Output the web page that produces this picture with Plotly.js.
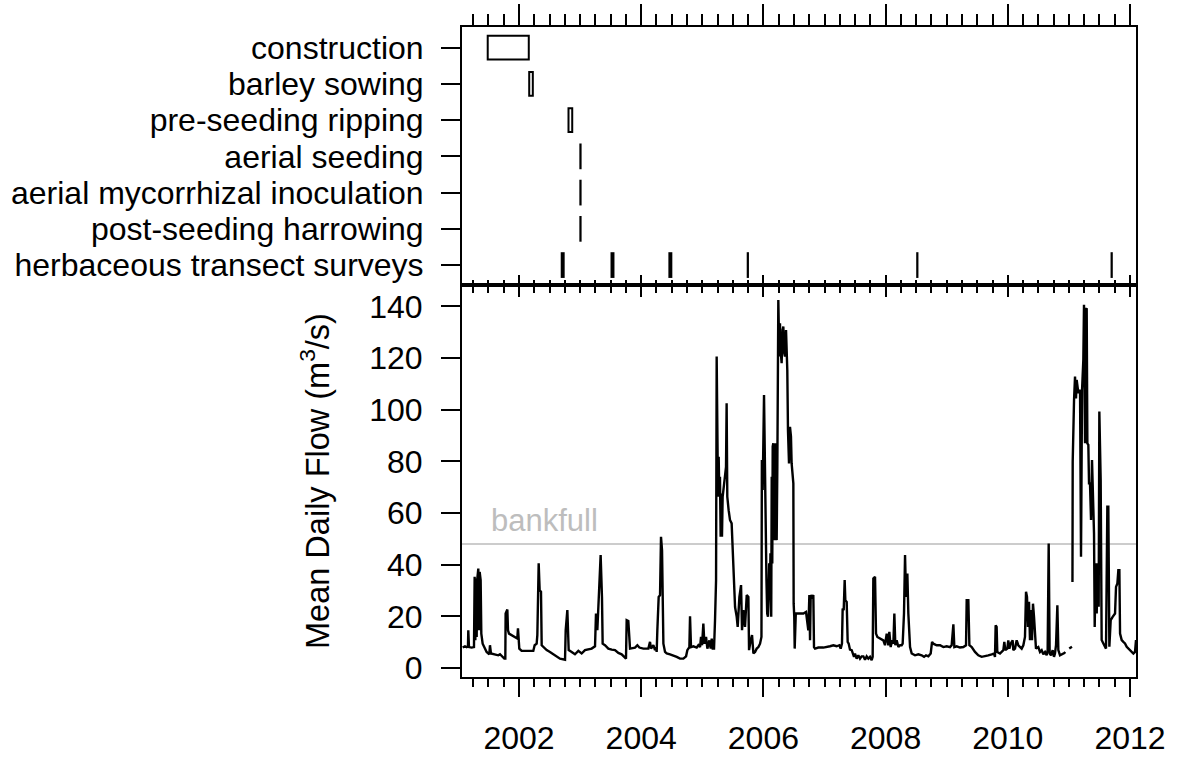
<!DOCTYPE html>
<html>
<head>
<meta charset="utf-8">
<script src="https://cdn.plot.ly/plotly-3.0.1.min.js"></script>
<style>html,body{margin:0;padding:0;background:#fff;}#chart{width:1180px;height:759px;}</style>
</head>
<body>
<div id="chart"></div>
<script>
// ---- Data (decimal years) ----
const flowYear = [
2001.078,2001.116,2001.143,2001.165,2001.170,2001.181,2001.225,2001.263,2001.274,2001.285,2001.296,2001.307,2001.318,2001.334,2001.345,2001.356,2001.372,2001.383,2001.405,2001.427,2001.470,2001.514,2001.525,2001.541,2001.607,2001.661,2001.689,2001.716,2001.760,2001.776,2001.781,2001.809,2001.820,2001.836,2001.880,2001.934,2001.972,2001.983,2002.000,2002.005,2002.043,2002.234,2002.256,2002.289,2002.300,2002.322,2002.338,2002.360,2002.371,2002.398,2002.453,2002.507,2002.562,2002.616,2002.671,2002.753,2002.764,2002.791,2002.802,2002.813,2002.862,2002.916,2002.971,2003.025,2003.080,2003.135,2003.189,2003.244,2003.260,2003.282,2003.304,2003.336,2003.358,2003.369,2003.407,2003.462,2003.517,2003.571,2003.626,2003.680,2003.735,2003.751,2003.762,2003.789,2003.817,2003.899,2003.937,2003.970,2004.035,2004.117,2004.144,2004.161,2004.199,2004.226,2004.243,2004.253,2004.264,2004.286,2004.308,2004.324,2004.341,2004.352,2004.363,2004.390,2004.417,2004.472,2004.526,2004.581,2004.635,2004.690,2004.734,2004.755,2004.788,2004.799,2004.815,2004.854,2004.908,2004.936,2004.963,2004.979,2004.996,2005.017,2005.034,2005.061,2005.083,2005.116,2005.137,2005.154,2005.170,2005.192,2005.208,2005.225,2005.235,2005.246,2005.257,2005.268,2005.278,2005.289,2005.300,2005.311,2005.322,2005.333,2005.344,2005.366,2005.388,2005.398,2005.409,2005.431,2005.453,2005.480,2005.497,2005.508,2005.536,2005.563,2005.579,2005.607,2005.634,2005.650,2005.672,2005.699,2005.727,2005.754,2005.765,2005.792,2005.814,2005.836,2005.863,2005.890,2005.918,2005.945,2005.968,2005.975,2005.988,2006.010,2006.026,2006.042,2006.050,2006.062,2006.075,2006.085,2006.095,2006.105,2006.115,2006.120,2006.128,2006.136,2006.145,2006.152,2006.162,2006.173,2006.184,2006.195,2006.205,2006.217,2006.228,2006.244,2006.260,2006.271,2006.282,2006.298,2006.315,2006.326,2006.342,2006.353,2006.370,2006.381,2006.391,2006.402,2006.419,2006.435,2006.451,2006.462,2006.479,2006.490,2006.495,2006.505,2006.512,2006.518,2006.530,2006.599,2006.654,2006.697,2006.719,2006.735,2006.752,2006.763,2006.774,2006.795,2006.817,2006.828,2006.845,2006.899,2006.981,2007.035,2007.090,2007.145,2007.199,2007.243,2007.265,2007.286,2007.297,2007.314,2007.330,2007.341,2007.363,2007.379,2007.396,2007.417,2007.445,2007.483,2007.499,2007.526,2007.554,2007.581,2007.608,2007.636,2007.663,2007.690,2007.717,2007.745,2007.772,2007.788,2007.799,2007.827,2007.843,2007.865,2007.908,2007.963,2007.990,2008.018,2008.045,2008.061,2008.083,2008.105,2008.127,2008.143,2008.159,2008.181,2008.209,2008.236,2008.263,2008.279,2008.301,2008.318,2008.334,2008.356,2008.372,2008.400,2008.427,2008.481,2008.536,2008.590,2008.629,2008.661,2008.700,2008.738,2008.760,2008.781,2008.836,2008.891,2008.945,2009.000,2009.054,2009.081,2009.109,2009.125,2009.163,2009.218,2009.272,2009.300,2009.316,2009.327,2009.354,2009.371,2009.409,2009.463,2009.517,2009.572,2009.627,2009.681,2009.736,2009.774,2009.790,2009.801,2009.817,2009.828,2009.872,2009.927,2009.943,2009.959,2009.992,2010.008,2010.025,2010.047,2010.079,2010.090,2010.118,2010.145,2010.172,2010.199,2010.227,2010.254,2010.281,2010.298,2010.314,2010.330,2010.347,2010.363,2010.379,2010.396,2010.412,2010.429,2010.445,2010.461,2010.499,2010.527,2010.554,2010.581,2010.609,2010.636,2010.652,2010.669,2010.685,2010.707,2010.734,2010.756,2010.772,2010.789,2010.811,2010.827,2010.854,2010.898,2010.925,2010.941,2010.970,2011.005,2011.050,2011.053,2011.058,2011.062,2011.084,2011.100,2011.116,2011.127,2011.155,2011.182,2011.198,2011.215,2011.236,2011.247,2011.264,2011.275,2011.291,2011.302,2011.318,2011.329,2011.345,2011.362,2011.378,2011.395,2011.411,2011.422,2011.438,2011.455,2011.471,2011.487,2011.498,2011.520,2011.536,2011.564,2011.591,2011.607,2011.629,2011.645,2011.662,2011.684,2011.716,2011.755,2011.771,2011.793,2011.809,2011.826,2011.837,2011.864,2011.891,2011.918,2011.946,2011.973,2012.000,2012.027,2012.055,2012.082,2012.098
];
const flowValue = [
7.9,8.4,8.1,8.4,14.6,8.1,7.9,8.1,35.3,10.7,34.6,12.0,34.6,38.5,14.6,37.2,34.0,13.3,9.4,8.1,6.2,5.3,8.8,5.6,5.3,4.9,5.3,4.5,3.6,3.6,21.1,22.6,14.6,13.3,12.7,11.8,11.4,15.3,11.4,7.5,6.6,6.6,8.8,9.4,12.7,40.5,30.1,29.5,8.8,8.1,6.9,6.2,5.3,4.3,3.6,3.2,14.6,22.4,14.6,6.9,6.2,5.3,6.6,5.6,6.9,7.1,7.5,8.4,21.1,14.6,27.5,43.7,27.5,9.4,8.8,7.5,7.1,6.9,5.8,5.3,4.0,3.6,18.5,18.2,7.5,7.9,8.8,7.9,7.5,7.5,10.1,7.5,8.8,6.9,8.1,6.2,14.6,27.5,28.2,50.8,45.6,27.5,9.4,6.2,5.6,5.3,4.9,4.3,3.6,3.6,4.5,6.9,8.1,20.0,8.1,8.4,7.9,8.8,8.1,12.0,8.8,17.2,9.4,12.0,7.5,10.7,7.5,11.4,7.5,7.5,18.5,34.0,120.6,83.1,66.3,81.8,67.6,74.0,50.8,67.6,50.8,66.3,68.9,74.0,77.9,102.5,66.3,61.1,57.3,56.0,44.3,40.5,23.6,19.8,15.9,27.5,32.1,14.6,22.4,15.9,28.2,27.5,6.9,10.7,12.7,5.6,6.2,7.5,8.1,9.4,12.0,80.5,68.9,105.7,68.9,43.1,34.0,21.1,19.8,30.0,40.5,27.5,44.4,27.5,19.8,74.0,40.5,85.7,87.0,81.8,49.5,87.0,57.3,49.5,77.9,142.5,120.6,133.5,123.1,118.0,130.9,132.2,121.9,120.6,130.9,123.1,115.4,92.1,79.2,93.4,89.6,79.2,72.8,71.5,25.0,19.8,7.5,19.8,21.1,21.1,21.1,21.7,15.9,14.6,28.2,10.7,28.2,27.5,28.2,8.1,7.5,7.9,7.9,8.1,8.4,8.8,8.4,8.8,7.5,9.4,23.0,22.4,34.0,26.2,25.6,10.1,9.4,7.1,6.9,4.3,5.6,3.6,4.9,3.6,4.5,4.5,3.2,4.5,3.6,4.3,3.0,4.3,34.6,35.3,13.3,12.0,11.4,10.7,8.8,13.3,8.8,14.0,8.1,10.7,9.4,21.1,8.8,10.7,8.1,8.8,8.8,9.4,21.1,43.7,27.5,36.6,21.1,8.1,5.6,4.9,5.3,4.9,4.3,4.9,4.5,5.6,10.1,9.4,8.8,8.8,8.1,8.4,8.1,8.8,16.9,8.1,8.4,7.9,8.1,8.8,8.8,26.2,26.2,8.8,8.1,6.2,4.9,4.3,4.5,4.9,5.3,5.6,4.3,16.5,15.9,6.2,5.6,6.9,10.1,6.9,7.5,10.7,7.5,9.4,10.7,6.9,7.5,10.7,8.8,8.1,7.5,8.8,12.0,29.5,27.5,15.9,25.6,10.7,22.4,10.7,24.9,19.8,10.1,7.5,8.1,6.2,6.9,5.3,6.2,4.9,6.9,48.2,5.6,4.9,6.9,4.3,5.6,8.8,24.3,6.9,4.9,5.3,5.8,6.2,null,7.5,8.2,null,33.3,79.9,103.8,112.8,104.4,111.5,106.4,107.7,43.1,107.7,119.3,140.6,87.0,138.7,139.3,87.0,86.4,71.5,71.5,57.3,80.5,65.0,52.1,15.9,40.5,21.1,40.5,23.7,99.3,72.8,10.8,9.5,8.2,7.5,62.4,62.4,8.2,18.5,19.8,21.1,31.4,32.7,37.9,37.9,13.3,10.8,10.1,9.5,8.2,7.5,6.9,6.2,5.6,6.2,10.8
];
const bankfull = 48;

const activities = ['construction','barley sowing','pre-seeding ripping','aerial seeding',
  'aerial mycorrhizal inoculation','post-seeding harrowing','herbaceous transect surveys'];
const eventActivity = ['construction','barley sowing','pre-seeding ripping','aerial seeding',
  'aerial mycorrhizal inoculation','post-seeding harrowing',
  'herbaceous transect surveys','herbaceous transect surveys','herbaceous transect surveys',
  'herbaceous transect surveys','herbaceous transect surveys','herbaceous transect surveys'];
const eventStart = [2001.488,2002.167,2002.810,2003.004,2003.004,2003.004,2002.699,2003.514,2004.461,2005.743,2008.517,2011.698];
const eventEnd   = [2002.160,2002.226,2002.871,2003.008,2003.008,2003.008,2002.731,2003.546,2004.493,2005.747,2008.521,2011.702];

const yearTicks  = [2001,2002,2003,2004,2005,2006,2007,2008,2009,2010,2011,2012];
const yearLabels = ['','2002','','2004','','2006','','2008','','2010','','2012'];
const flowTicks  = [0,20,40,60,80,100,120,140];

// ---- styling helpers ----
const FONT = 'Liberation Sans, Arial, Helvetica, sans-serif';
const FS = 32;
const xRange = [2001.067, 2012.098];
const quarterTicks = [];
for (let q = 2001; q <= 2012.3; q += 0.25) quarterTicks.push(+q.toFixed(2));
const split = 0.60308;

function xAx(extra) {
  return Object.assign({
    range: xRange, autorange: false, tickmode: 'array', tickvals: yearTicks, ticktext: yearLabels,
    showgrid: false, zeroline: false, showline: true, linecolor: '#000', linewidth: 2,
    tickcolor: '#000', tickwidth: 2, fixedrange: true
  }, extra);
}

const traces = [
  {type: 'scatter', mode: 'lines', x: flowYear, y: flowValue, connectgaps: false,
   line: {color: '#000', width: 2.4}, xaxis: 'x', yaxis: 'y', hoverinfo: 'skip'},
  {type: 'bar', orientation: 'h', y: eventActivity, base: eventStart,
   x: eventStart.map((s, i) => eventEnd[i] - s), width: 0.655,
   marker: {color: '#fff', line: {color: '#000', width: 2}},
   xaxis: 'x2', yaxis: 'y2', hoverinfo: 'skip'},
  {type: 'scatter', mode: 'lines', x: [], y: [], xaxis: 'x3', yaxis: 'y2', hoverinfo: 'skip'},
  {type: 'scatter', mode: 'lines', x: [], y: [], xaxis: 'x4', yaxis: 'y', hoverinfo: 'skip'}
];

const layout = {
  width: 1180, height: 759,
  margin: {l: 462, r: 44, t: 27, b: 82},
  paper_bgcolor: '#fff', plot_bgcolor: '#fff',
  showlegend: false, barmode: 'overlay',
  font: {family: FONT, size: FS, color: '#000'},
  xaxis: xAx({anchor: 'y', side: 'bottom', ticks: 'outside', ticklen: 18,
    tickfont: {family: FONT, size: FS, color: '#000'}, ticklabelstandoff: 14,
    minor: {tickmode: 'array', tickvals: quarterTicks, ticks: 'outside', ticklen: 8, tickwidth: 2, tickcolor: '#000', showgrid: false}}),
  xaxis4: xAx({overlaying: 'x', anchor: 'y', side: 'top', ticks: 'inside', ticklen: 12, showticklabels: false,
    minor: {tickmode: 'array', tickvals: quarterTicks, ticks: 'inside', ticklen: 8, tickwidth: 2, tickcolor: '#000', showgrid: false}}),
  xaxis2: xAx({anchor: 'y2', side: 'top', ticks: 'outside', ticklen: 21, showticklabels: false,
    minor: {tickmode: 'array', tickvals: quarterTicks, ticks: 'outside', ticklen: 11, tickwidth: 2, tickcolor: '#000', showgrid: false}}),
  xaxis3: xAx({overlaying: 'x2', anchor: 'y2', side: 'bottom', ticks: 'inside', ticklen: 10, showticklabels: false,
    minor: {tickmode: 'array', tickvals: quarterTicks, ticks: 'inside', ticklen: 5, tickwidth: 2, tickcolor: '#000', showgrid: false}}),
  yaxis: {domain: [0, split], anchor: 'x', range: [-3.5, 148.3], autorange: false,
    tickmode: 'array', tickvals: flowTicks, ticks: 'outside', ticklen: 19, tickwidth: 2, tickcolor: '#000',
    showline: true, mirror: true, linecolor: '#000', linewidth: 2, showgrid: false, zeroline: false,
    tickfont: {family: FONT, size: FS, color: '#000'}, ticklabelstandoff: 12, fixedrange: true,
    title: {text: 'Mean Daily Flow (m<sup>3</sup>/s)', font: {family: FONT, size: 32.5, color: '#000'}, standoff: 30}},
  yaxis2: {domain: [split, 1], anchor: 'x2', type: 'category',
    categoryorder: 'array', categoryarray: activities.slice().reverse(),
    tickmode: 'array', tickvals: activities, ticktext: activities,
    range: [-0.55, 6.57], autorange: false,
    ticks: 'outside', ticklen: 19, tickwidth: 2, tickcolor: '#000',
    showline: true, mirror: true, linecolor: '#000', linewidth: 2, showgrid: false, zeroline: false,
    tickfont: {family: FONT, size: FS, color: '#000'}, ticklabelstandoff: 11, fixedrange: true},
  shapes: [{type: 'line', xref: 'x domain', x0: 0, x1: 1, yref: 'y', y0: bankfull, y1: bankfull,
    line: {color: '#cccccc', width: 2}, layer: 'below'}],
  annotations: [{xref: 'x', yref: 'y', x: 2001.51, y: 57, xanchor: 'left', yanchor: 'middle',
    text: 'bankfull', showarrow: false, font: {family: FONT, size: 31, color: '#bdbdbd'}}]
};

Plotly.newPlot('chart', traces, layout, {staticPlot: true, displayModeBar: false});
</script>
</body>
</html>
